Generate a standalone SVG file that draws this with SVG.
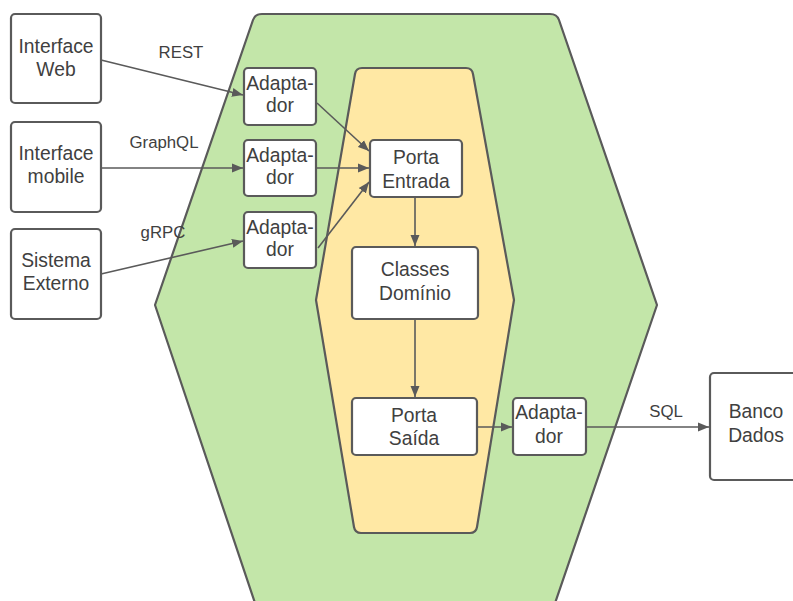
<svg xmlns="http://www.w3.org/2000/svg" width="793" height="601" viewBox="0 0 793 601">
<defs>
<marker id="arr" markerWidth="12" markerHeight="10" refX="11" refY="5" orient="auto" markerUnits="userSpaceOnUse">
<path d="M0,0.5 L11,5 L0,9.5 z" fill="#5a5a5a"/>
</marker>
<style>
.box{fill:#ffffff;stroke:#5a5a5a;stroke-width:2.2}
.t{font-family:"Liberation Sans",Arial,sans-serif;font-size:19.3px;fill:#404040;text-anchor:middle}
.l{font-family:"Liberation Sans",Arial,sans-serif;font-size:16.8px;fill:#404040;text-anchor:middle}
.c{stroke:#5a5a5a;stroke-width:1.6;fill:none;marker-end:url(#arr)}
</style>
</defs>
<rect width="793" height="601" fill="#ffffff"/>
<g id="hexagono-externo">
<path d="M262,14 L550,14 Q557,14 559,20 L657,305 L552,612 L258,612 L155,305 L253,20 Q255,14 262,14 Z" fill="#c3e6a9" stroke="#5a5a5a" stroke-width="2.2" stroke-linejoin="round"/>
</g>
<g id="hexagono-interno">
<path d="M362,68 L466,68 Q472,68 473,74 L514,300 L477,527 Q476,533 470,533 L361,533 Q355,533 354,527 L316,300 L355,74 Q356,68 362,68 Z" fill="#ffe8a4" stroke="#5a5a5a" stroke-width="2.2" stroke-linejoin="round"/>
</g>
<g id="conectores">
<line class="c" x1="101" y1="60" x2="243" y2="95"/>
<line class="c" x1="101" y1="168" x2="243" y2="168"/>
<line class="c" x1="101" y1="274" x2="243" y2="241"/>
<line class="c" x1="317" y1="103" x2="369" y2="151"/>
<line class="c" x1="317" y1="168" x2="369" y2="168"/>
<line class="c" x1="318" y1="248" x2="369" y2="182"/>
<line class="c" x1="415" y1="197" x2="415" y2="246"/>
<line class="c" x1="415" y1="319" x2="415" y2="397"/>
<line class="c" x1="477" y1="427" x2="512" y2="427"/>
<line class="c" x1="586" y1="427" x2="709" y2="427"/>
<text class="l" x="181" y="58">REST</text>
<text class="l" x="164" y="148">GraphQL</text>
<text class="l" x="163" y="238">gRPC</text>
<text class="l" x="666" y="417">SQL</text>
</g>
<g id="interface-web">
<rect class="box" x="11" y="14" width="90" height="89" rx="4"/>
<text class="t" x="56" y="53">Interface</text>
<text class="t" x="56" y="76">Web</text>
</g>
<g id="interface-mobile">
<rect class="box" x="11" y="122" width="90" height="90" rx="4"/>
<text class="t" x="56" y="160">Interface</text>
<text class="t" x="56" y="183">mobile</text>
</g>
<g id="sistema-externo">
<rect class="box" x="11" y="229" width="90" height="90" rx="4"/>
<text class="t" x="56" y="267">Sistema</text>
<text class="t" x="56" y="290">Externo</text>
</g>
<g id="adaptador-1">
<rect class="box" x="244" y="68" width="72" height="57" rx="4"/>
<text class="t" x="280" y="90">Adapta-</text>
<text class="t" x="280" y="112">dor</text>
</g>
<g id="adaptador-2">
<rect class="box" x="244" y="140" width="72" height="56" rx="4"/>
<text class="t" x="280" y="162">Adapta-</text>
<text class="t" x="280" y="184">dor</text>
</g>
<g id="adaptador-3">
<rect class="box" x="244" y="212" width="72" height="56" rx="4"/>
<text class="t" x="280" y="234">Adapta-</text>
<text class="t" x="280" y="256">dor</text>
</g>
<g id="porta-entrada">
<rect class="box" x="370" y="140" width="92" height="57" rx="4"/>
<text class="t" x="416" y="164">Porta</text>
<text class="t" x="416" y="188">Entrada</text>
</g>
<g id="classes-dominio">
<rect class="box" x="352" y="247" width="126" height="72" rx="4"/>
<text class="t" x="415" y="276">Classes</text>
<text class="t" x="415" y="300">Domínio</text>
</g>
<g id="porta-saida">
<rect class="box" x="352" y="398" width="125" height="57" rx="4"/>
<text class="t" x="414" y="422">Porta</text>
<text class="t" x="414" y="445">Saída</text>
</g>
<g id="adaptador-4">
<rect class="box" x="513" y="398" width="73" height="57" rx="4"/>
<text class="t" x="549" y="419">Adapta-</text>
<text class="t" x="549" y="443">dor</text>
</g>
<g id="banco-dados">
<rect class="box" x="710" y="373" width="90" height="107" rx="4"/>
<text class="t" x="756" y="418">Banco</text>
<text class="t" x="756" y="442">Dados</text>
</g>
</svg>
